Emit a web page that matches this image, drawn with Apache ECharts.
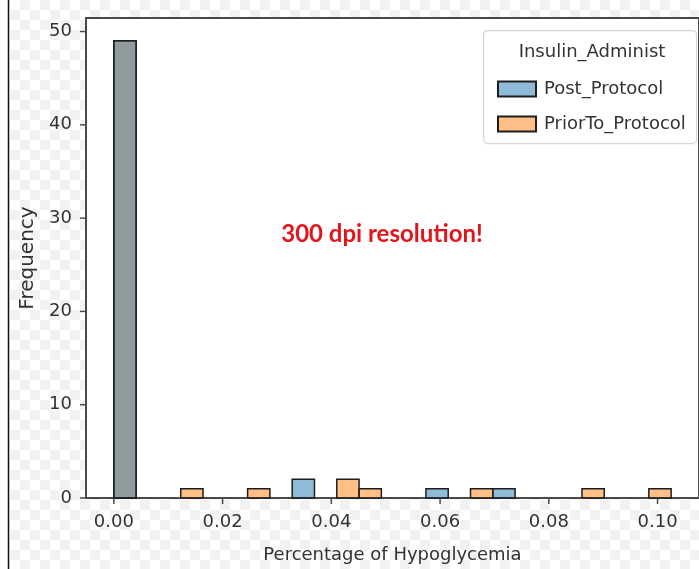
<!DOCTYPE html>
<html>
<head>
<meta charset="utf-8">
<script src="https://cdn.jsdelivr.net/npm/echarts@6/dist/echarts.min.js"></script>
<style>
  html, body { margin: 0; padding: 0; background: #fff; }
  #chart { width: 699px; height: 569px; }
</style>
</head>
<body>
<div id="chart"></div>
<script>
// histogram bins: 25 bins of equal width starting at 0
const binWidth = 0.0041
const postCounts  = [49, 0, 0, 0, 0, 0, 0, 0, 2, 0, 0, 0, 0, 0, 1, 0, 0, 1, 0, 0, 0, 0, 0, 0, 0]
const priorCounts = [49, 0, 0, 1, 0, 0, 1, 0, 0, 0, 2, 1, 0, 0, 0, 0, 1, 0, 0, 0, 0, 1, 0, 0, 1]
const xTicks = [0, 0.02, 0.04, 0.06, 0.08, 0.10]
const yTicks = [0, 10, 20, 30, 40, 50]

const xMin = -0.005125
const xMax = 0.107625
const yMax = 51.45

const postColor = 'rgba(31, 119, 180, 0.5)'
const priorColor = 'rgba(255, 127, 14, 0.5)'
const edgeColor = '#1e1e1e'
const spineColor = '#4a4a4a'

// [left edge, right edge, count] for each non-empty bin
const toBins = (counts) => counts
  .map((c, i) => [i * binWidth, (i + 1) * binWidth, c])
  .filter(d => d[2] > 0)

// only label the listed tick values (axis extent ends stay blank)
const tickLabel = (ticks, digits) => (v) =>
  ticks.some(t => Math.abs(t - v) < 1e-9) ? v.toFixed(digits) : ''

// checkerboard background (transparent-image look)
const makeChecker = () => {
  const s = 10
  const c = document.createElement('canvas')
  c.width = s * 2
  c.height = s * 2
  const ctx = c.getContext('2d')
  ctx.fillStyle = '#ffffff'
  ctx.fillRect(0, 0, s * 2, s * 2)
  ctx.fillStyle = '#f2f2f2'
  ctx.fillRect(0, 0, s, s)
  ctx.fillRect(s, s, s, s)
  return c
}

const renderBar = (fill) => (params, api) => {
  const p0 = api.coord([api.value(0), api.value(2)])
  const p1 = api.coord([api.value(1), 0])
  return {
    type: 'rect',
    shape: { x: p0[0], y: p0[1], width: p1[0] - p0[0], height: p1[1] - p0[1] },
    style: { fill: fill, stroke: edgeColor, lineWidth: 1.5 }
  }
}

const chart = echarts.init(document.getElementById('chart'), null, { renderer: 'canvas' })

const font = 'DejaVu Sans'

const baseGraphic = [
  {
    id: 'legendBox', type: 'rect', left: 483, top: 30, z: 5,
    shape: { width: 213, height: 113, r: 4 },
    style: { fill: '#ffffff', stroke: '#d6d6d6', lineWidth: 1.2 }
  },
  {
    id: 'legendTitle', type: 'text', x: 592, y: 52, z: 6,
    style: {
      text: 'Insulin_Administ', fontFamily: font, fontSize: 18, fill: '#333',
      align: 'center', verticalAlign: 'middle'
    }
  },
  {
    id: 'note', type: 'text', x: 382, y: 234, z: 6,
    style: {
      text: '300 dpi resolution!', fontFamily: 'Lato', fontWeight: 'bold', fontSize: 24,
      fill: '#e3151c', align: 'center', verticalAlign: 'middle'
    }
  },
  { id: 'edgeFill', type: 'rect', left: 0, top: 0, z: 6, shape: { width: 8, height: 569 }, style: { fill: '#ffffff' } },
  { id: 'edgeLine', type: 'line', z: 6, shape: { x1: 8.5, y1: 0, x2: 8.5, y2: 569 }, style: { stroke: '#111', lineWidth: 1.5 } }
]

const option = {
  animation: false,
  backgroundColor: { image: makeChecker(), repeat: 'repeat' },
  grid: {
    left: 86, top: 18, right: -8, bottom: 69,
    show: true,
    backgroundColor: '#ffffff',
    borderColor: spineColor,
    borderWidth: 2
  },
  xAxis: {
    type: 'value',
    min: xMin,
    max: xMax,
    splitNumber: 5,
    splitLine: { show: false },
    axisLine: { show: true, onZero: false, lineStyle: { color: spineColor, width: 2 } },
    axisTick: { show: false },
    axisLabel: {
      formatter: tickLabel(xTicks, 2),
      showMinLabel: false,
      showMaxLabel: false,
      margin: 15,
      fontFamily: font, fontSize: 18, color: '#333'
    },
    name: 'Percentage of Hypoglycemia',
    nameLocation: 'middle',
    nameGap: 48,
    nameTextStyle: { fontFamily: font, fontSize: 18, color: '#333' }
  },
  yAxis: {
    type: 'value',
    min: 0,
    max: yMax,
    interval: 10,
    splitLine: { show: false },
    axisLine: { show: true, onZero: false, lineStyle: { color: spineColor, width: 2 } },
    axisTick: { show: false },
    axisLabel: {
      formatter: tickLabel(yTicks, 0),
      showMaxLabel: false,
      margin: 14,
      fontFamily: font, fontSize: 18, color: '#333'
    },
    name: 'Frequency',
    nameLocation: 'middle',
    nameGap: 46,
    nameTextStyle: { fontFamily: font, fontSize: 20, color: '#333' }
  },
  legend: {
    orient: 'vertical',
    left: 492,
    top: 75,
    z: 10,
    itemWidth: 38,
    itemHeight: 15,
    itemGap: 17,
    icon: 'rect',
    data: [
      { name: 'Post_Protocol', itemStyle: { color: postColor, borderColor: edgeColor, borderWidth: 2 } },
      { name: 'PriorTo_Protocol', itemStyle: { color: priorColor, borderColor: edgeColor, borderWidth: 2 } }
    ],
    textStyle: { fontFamily: font, fontSize: 18, color: '#333', padding: [0, 0, 0, 3] }
  },
  graphic: baseGraphic,
  series: [
    {
      name: 'PriorTo_Protocol',
      type: 'custom',
      renderItem: renderBar(priorColor),
      itemStyle: { color: priorColor },
      encode: { x: [0, 1], y: 2 },
      data: toBins(priorCounts),
      z: 2
    },
    {
      name: 'Post_Protocol',
      type: 'custom',
      renderItem: renderBar(postColor),
      itemStyle: { color: postColor },
      encode: { x: [0, 1], y: 2 },
      data: toBins(postCounts),
      z: 3
    }
  ]
}

chart.setOption(option)

// outward tick marks, positioned from the axis scales after layout
const tickStyle = { stroke: spineColor, lineWidth: 1.5 }
const tickMarks = []
xTicks.forEach((v, i) => {
  const p = chart.convertToPixel({ gridIndex: 0 }, [v, 0])
  tickMarks.push({ id: 'xt' + i, type: 'line', z: 20, shape: { x1: p[0], y1: p[1], x2: p[0], y2: p[1] + 6 }, style: tickStyle })
})
yTicks.forEach((v, i) => {
  const p = chart.convertToPixel({ gridIndex: 0 }, [xMin, v])
  tickMarks.push({ id: 'yt' + i, type: 'line', z: 20, shape: { x1: p[0] - 6, y1: p[1], x2: p[0], y2: p[1] }, style: tickStyle })
})
chart.setOption({ graphic: baseGraphic.concat(tickMarks) })
</script>
</body>
</html>
